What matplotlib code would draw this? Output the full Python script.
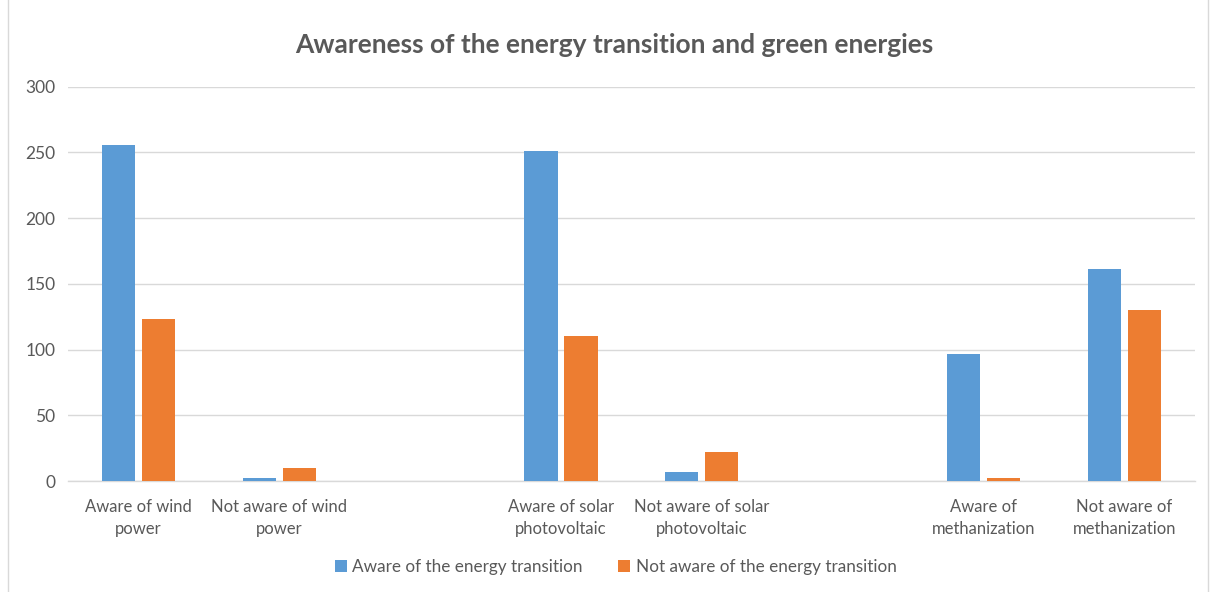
import numpy as np
import matplotlib.pyplot as plt
from matplotlib.patches import Rectangle

# Chart data (blank slots separate the three energy groups)
categories = ['Aware of wind\npower', 'Not aware of wind\npower', '',
              'Aware of solar\nphotovoltaic', 'Not aware of solar\nphotovoltaic', '',
              'Aware of\nmethanization', 'Not aware of\nmethanization']
aware = [256, 2, 0, 251, 7, 0, 97, 161]
not_aware = [123, 10, 0, 110, 22, 0, 2, 130]
series_names = ['Aware of the energy transition', 'Not aware of the energy transition']

BLUE = '#5b9bd5'
ORANGE = '#ed7d31'
TEXT = '#595959'
GRID = '#d9d9d9'

plt.rcParams['font.family'] = ['Lato', 'DejaVu Sans']

fig = plt.figure(figsize=(12.12, 5.92), dpi=100)
ax = fig.add_axes([0.056, 0.1875, 0.93, 0.666])

x = np.arange(len(categories))
width = 0.235
ax.bar(x - 0.142, aware, width, color=BLUE, label=series_names[0], zorder=3)
ax.bar(x + 0.142, not_aware, width, color=ORANGE, label=series_names[1], zorder=3)

ax.set_xlim(-0.5, len(categories) - 0.5)
ax.set_ylim(0, 300)
ax.set_yticks(range(0, 301, 50))
ax.set_xticks(x)
ax.set_xticklabels(categories, fontsize=12, color=TEXT, linespacing=1.45)
ax.tick_params(axis='y', labelsize=12.5, colors=TEXT, length=0, pad=9)
ax.tick_params(axis='x', length=0, pad=13)

ax.grid(axis='y', color=GRID, linewidth=1, zorder=0)
for side in ['top', 'right', 'left']:
    ax.spines[side].set_visible(False)
ax.spines['bottom'].set_color(GRID)
ax.spines['bottom'].set_linewidth(1)

fig.suptitle('Awareness of the energy transition and green energies',
             x=0.507, y=0.945, fontsize=19, fontweight='bold', color=TEXT)

leg = fig.legend(loc='center', bbox_to_anchor=(0.508, 0.042), ncol=2, frameon=False,
                 fontsize=12.3, handlelength=0.7, handleheight=0.7, handletextpad=0.3,
                 columnspacing=2.1)
for t in leg.get_texts():
    t.set_color(TEXT)

# light outer chart border
fig.patches.append(Rectangle((0.007, -0.01), 0.99, 1.02, transform=fig.transFigure,
                             fill=False, edgecolor=GRID, linewidth=1))

plt.savefig('out.png', dpi=100)
